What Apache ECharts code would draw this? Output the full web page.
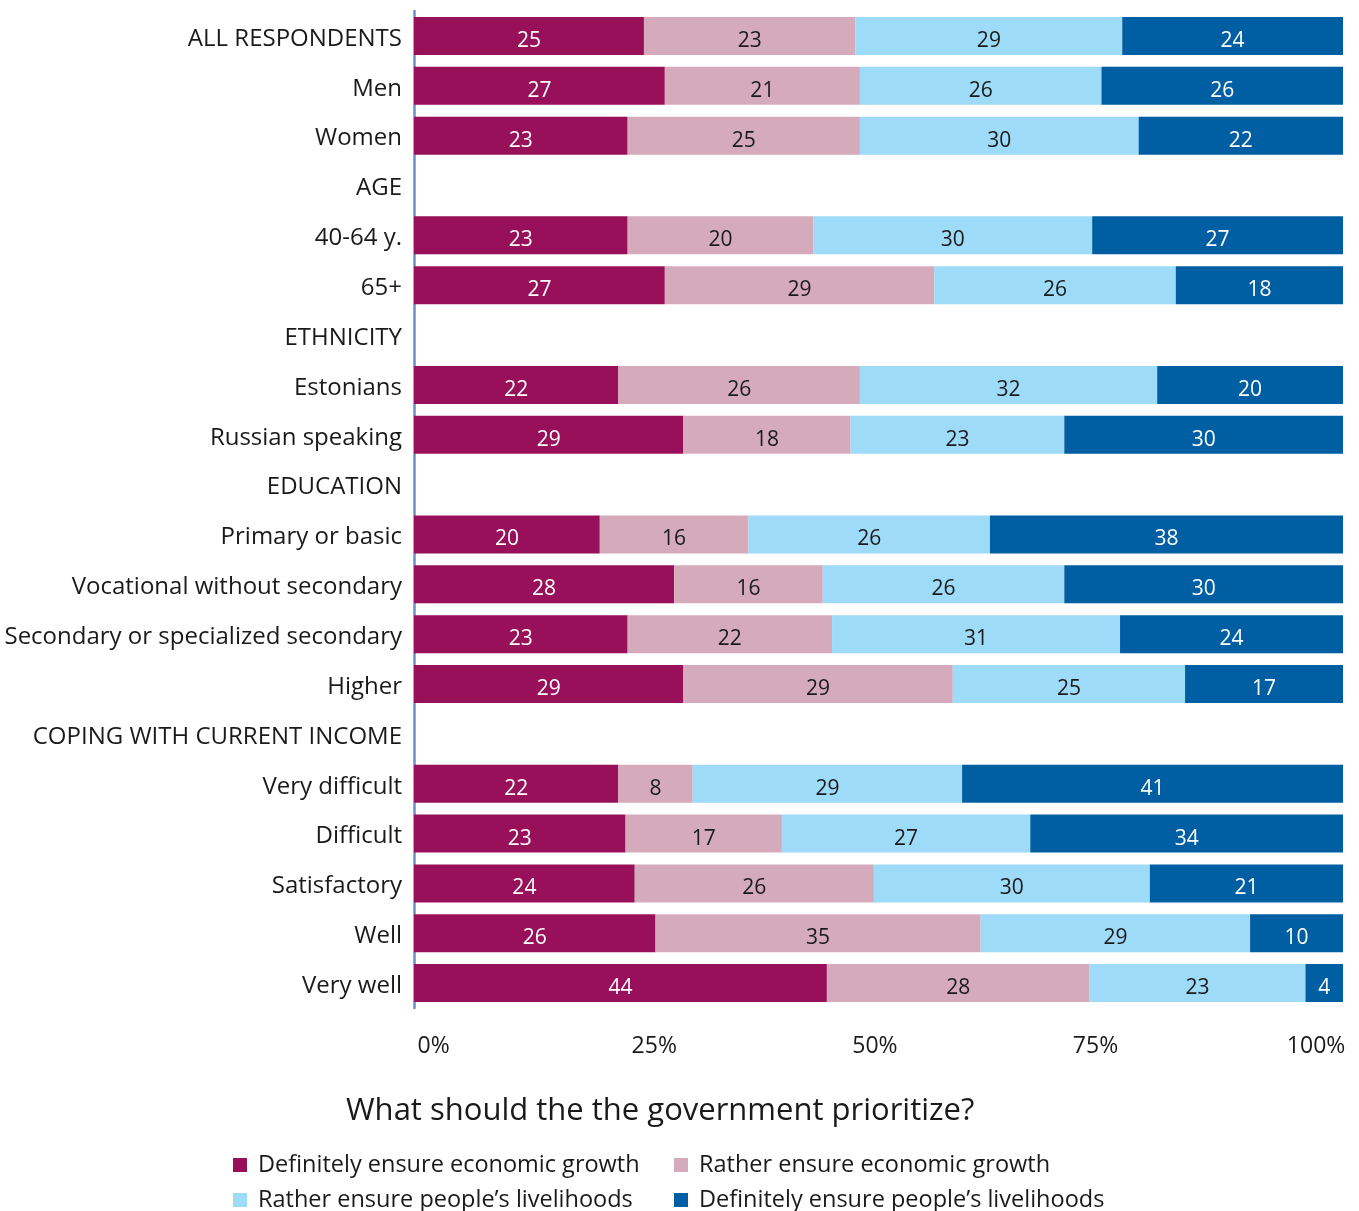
<!DOCTYPE html>
<html>
<head>
<meta charset="utf-8">
<script src="https://cdn.jsdelivr.net/npm/echarts@6/dist/echarts.min.js"></script>
<style>
  html, body { margin: 0; padding: 0; background: #ffffff; }
  #chart { width: 1359px; height: 1211px; }
</style>
</head>
<body>
<div id="chart"></div>
<script>
// Row labels (group headers have no bars)
const categories = [
  'ALL RESPONDENTS', 'Men', 'Women',
  'AGE', '40-64 y.', '65+',
  'ETHNICITY', 'Estonians', 'Russian speaking',
  'EDUCATION', 'Primary or basic', 'Vocational without secondary',
  'Secondary or specialized secondary', 'Higher',
  'COPING WITH CURRENT INCOME', 'Very difficult', 'Difficult',
  'Satisfactory', 'Well', 'Very well'
];

// Answer shares, %, per row (null = header row)
const definitelyGrowth = [25, 27, 23, null, 23, 27, null, 22, 29, null, 20, 28, 23, 29, null, 22, 23, 24, 26, 44];
const ratherGrowth     = [23, 21, 25, null, 20, 29, null, 26, 18, null, 16, 16, 22, 29, null, 8, 17, 26, 35, 28];
const ratherLivelihood = [29, 26, 30, null, 30, 26, null, 32, 23, null, 26, 26, 31, 25, null, 29, 27, 30, 29, 23];
const definitelyLivelihood = [24, 26, 22, null, 27, 18, null, 20, 30, null, 38, 30, 24, 17, null, 41, 34, 21, 10, 4];

const seriesNames = [
  'Definitely ensure economic growth',
  'Rather ensure economic growth',
  'Rather ensure people\u2019s livelihoods',
  'Definitely ensure people\u2019s livelihoods'
];
const xTicks = [0, 25, 50, 75, 100];
const titleText = 'What should the the government prioritize?';

const colors = ['#98105A', '#D5ABBB', '#9DDBF8', '#005EA2'];
const labelColors = ['#ffffff', '#1a1a1a', '#1a1a1a', '#ffffff'];
const FONT = 'Open Sans';

const groups = [definitelyGrowth, ratherGrowth, ratherLivelihood, definitelyLivelihood];

// Each bar is stretched to the full 100% width; labels keep the rounded answer
const totals = categories.map((c, i) => {
  if (definitelyGrowth[i] == null) return null;
  return groups.reduce((s, arr) => s + arr[i], 0);
});

const series = groups.map((arr, k) => ({
  name: seriesNames[k],
  type: 'bar',
  stack: 'total',
  barWidth: 38,
  itemStyle: { color: colors[k] },
  label: {
    show: true,
    position: 'inside',
    offset: [0, 5],
    fontFamily: FONT,
    fontSize: 21,
    color: labelColors[k],
    formatter: p => (arr[p.dataIndex] == null ? '' : String(arr[p.dataIndex]))
  },
  emphasis: { disabled: true },
  data: arr.map((v, i) => (v == null ? null : v / totals[i] * 100))
}));

// Legend laid out as a 2x2 grid: [left, top] per entry
const legendSlots = [[233, 1153], [674, 1153], [233, 1188], [674, 1188]];
const legends = seriesNames.map((name, k) => ({
  data: [name],
  left: legendSlots[k][0],
  top: legendSlots[k][1],
  padding: 0,
  itemWidth: 14,
  itemHeight: 14,
  icon: 'rect',
  selectedMode: false,
  textStyle: { fontFamily: FONT, fontSize: 23.5, color: '#1a1a1a', padding: [0, 0, 0, 6] }
}));

const chart = echarts.init(document.getElementById('chart'), null, { renderer: 'canvas' });

chart.setOption({
  animation: false,
  textStyle: { fontFamily: FONT },
  title: {
    text: titleText,
    left: 346,
    top: 1096,
    padding: 0,
    textStyle: { fontFamily: FONT, fontSize: 31, fontWeight: 'normal', color: '#1a1a1a' }
  },
  legend: legends,
  grid: { left: 414, right: 16, top: 11, bottom: 203, containLabel: false },
  xAxis: [
    {
      type: 'value',
      min: 0,
      max: 100,
      splitLine: { show: false },
      axisLine: { show: false },
      axisTick: { show: false },
      axisLabel: { show: false }
    },
    {
      // tick labels spread evenly, first and last flush with the bar ends
      type: 'value',
      position: 'bottom',
      min: -2.23,
      max: 103.05,
      splitLine: { show: false },
      axisLine: { show: false },
      axisTick: { show: false },
      axisLabel: {
        customValues: xTicks,
        margin: 27,
        fontFamily: FONT,
        fontSize: 23,
        color: '#1a1a1a',
        formatter: v => v + '%'
      }
    }
  ],
  yAxis: {
    type: 'category',
    inverse: true,
    data: categories,
    axisLine: { show: true, lineStyle: { color: '#6B8FC9', width: 2.5 } },
    axisTick: { show: false },
    axisLabel: {
      margin: 12,
      lineHeight: 30,
      verticalAlign: 'top',
      padding: [-12, 0, 0, 0],
      fontFamily: FONT,
      fontSize: 24,
      color: '#1a1a1a'
    }
  },
  series: series
});
</script>
</body>
</html>
